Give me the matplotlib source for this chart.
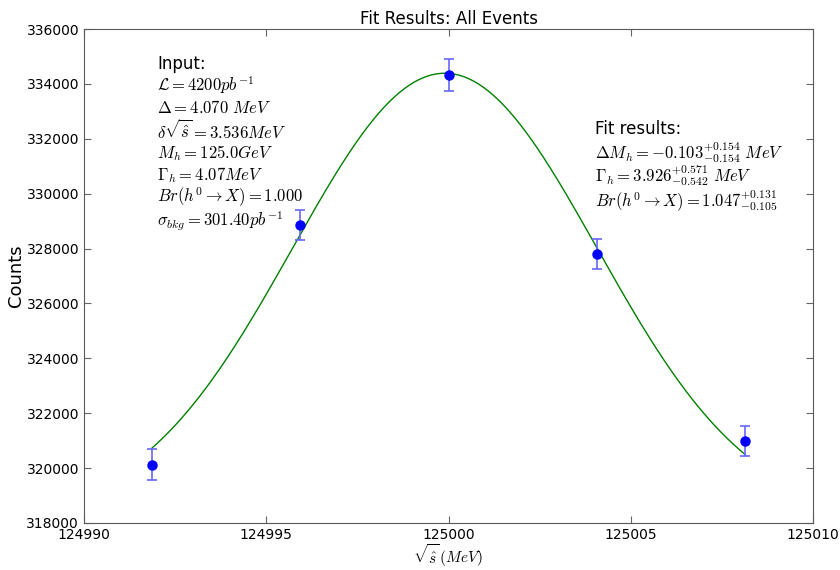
import numpy as np
import matplotlib
matplotlib.use("Agg")
import matplotlib.pyplot as plt
from matplotlib.ticker import ScalarFormatter

plt.rcParams['mathtext.fontset'] = 'cm'
plt.rcParams['font.family'] = 'DejaVu Sans'

# measured points
sqrt_s = [124991.86, 124995.93, 125000.0, 125004.07, 125008.14]
counts = [320130, 328860, 334330, 327800, 320990]
count_err = [550, 560, 580, 560, 560]

# fit curve parameters (gaussian on flat background)
fit_center = 124999.897
fit_sigma = 4.18
fit_amp = 16220
fit_bkg = 318170

input_lines = [
    r'$\mathcal{L}=4200pb^{-1}$',
    r'$\Delta=4.070\ MeV$',
    r'$\delta\sqrt{\hat{s}}=3.536MeV$',
    r'$M_h=125.0GeV$',
    r'$\Gamma_h=4.07MeV$',
    r'$Br(h^0\rightarrow X)=1.000$',
    r'$\sigma_{bkg}=301.40pb^{-1}$',
]
fit_lines = [
    r'$\Delta M_h=-0.103^{+0.154}_{-0.154}\ MeV$',
    r'$\Gamma_h=3.926^{+0.571}_{-0.542}\ MeV$',
    r'$Br(h^0\rightarrow X)=1.047^{+0.131}_{-0.105}$',
]

fig = plt.figure(figsize=(8.4, 5.7), dpi=100)
ax = fig.add_axes([0.1, 0.0825, 0.868, 0.8665])

xx = np.linspace(sqrt_s[0], sqrt_s[-1], 400)
yy = fit_bkg + fit_amp * np.exp(-(xx - fit_center)**2 / (2 * fit_sigma**2))
ax.plot(xx, yy, color=(0, 0.5, 0), lw=1.0)

ax.errorbar(sqrt_s, counts, yerr=count_err, fmt='o', color='blue', ms=6.5,
            ecolor=(0.4, 0.4, 1.0), elinewidth=1.2, capsize=3.5, capthick=1.2)

ax.set_xlim(124990, 125010)
ax.set_ylim(318000, 336000)
ax.set_xticks(np.arange(124990, 125011, 5))
ax.set_yticks(np.arange(318000, 336001, 2000))
ax.xaxis.set_major_formatter(ScalarFormatter(useOffset=False))
ax.yaxis.set_major_formatter(ScalarFormatter(useOffset=False))
ax.tick_params(direction='in', top=True, right=True, length=5, labelsize=10, color='0.4')
for sp in ax.spines.values():
    sp.set_color('0.35')

ax.set_title('Fit Results: All Events', fontsize=12, pad=4)
ax.set_ylabel('Counts', fontsize=13, labelpad=1)
ax.set_xlabel(r'$\sqrt{\hat{s}}\,(MeV)$', fontsize=11, labelpad=0)

ax.text(0.100, 0.929, 'Input:', transform=ax.transAxes, fontsize=12, va='center')
ys_in = [0.887, 0.840, 0.794, 0.749, 0.704, 0.660, 0.611]
for s, y in zip(input_lines, ys_in):
    ax.text(0.100, y, s, transform=ax.transAxes, fontsize=12, va='center')

ax.text(0.701, 0.798, 'Fit results:', transform=ax.transAxes, fontsize=12, va='center')
ys_fit = [0.751, 0.704, 0.652]
for s, y in zip(fit_lines, ys_fit):
    ax.text(0.701, y, s, transform=ax.transAxes, fontsize=12, va='center')

fig.savefig('out.png', dpi=100)
